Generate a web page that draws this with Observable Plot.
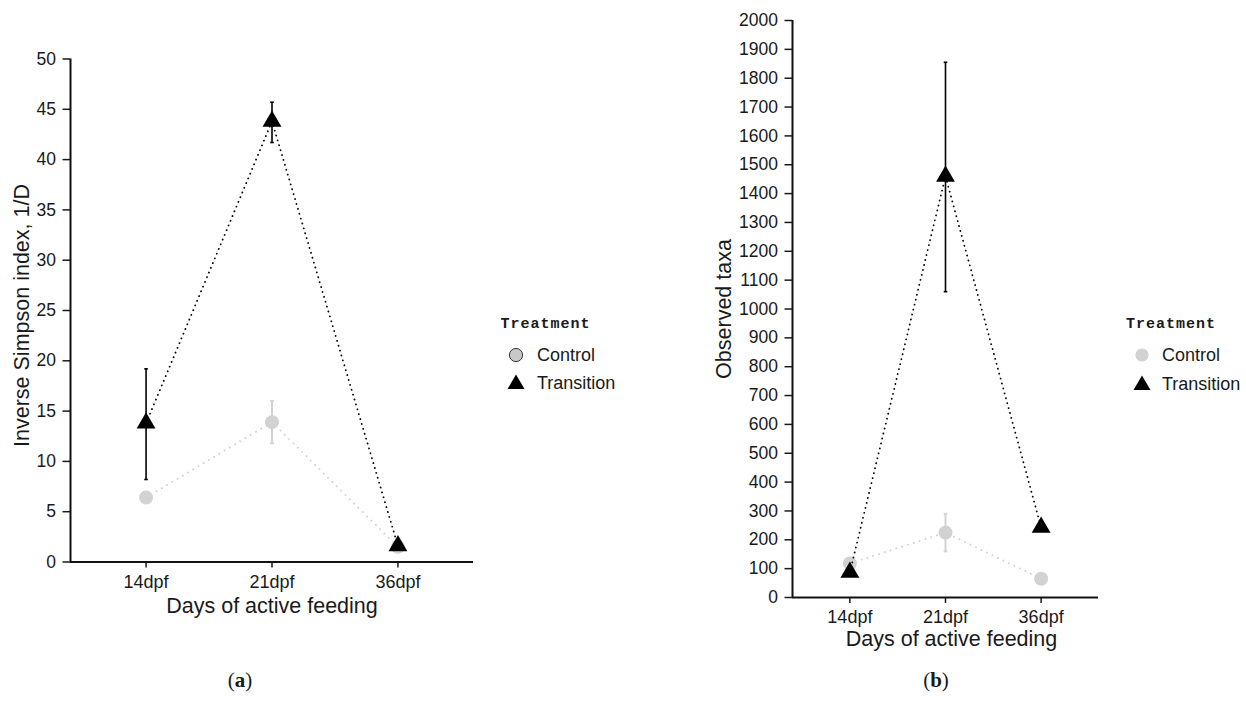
<!DOCTYPE html>
<html><head><meta charset="utf-8">
<script src="https://cdn.jsdelivr.net/npm/d3@7"></script>
<script src="https://cdn.jsdelivr.net/npm/@observablehq/plot@0.6"></script>
<style>
body{margin:0;background:#fff;}
#wrap{position:relative;width:1246px;height:708px;overflow:hidden;background:#fff;font-family:"Liberation Sans",Arial,sans-serif;color:#1a1a1a;}
.panel{position:absolute;top:0;}
.legtitle{position:absolute;font-family:"Liberation Mono","DejaVu Sans Mono",monospace;font-weight:bold;font-size:15px;letter-spacing:1px;line-height:1;}
.legitem{position:absolute;font-size:18px;line-height:1;display:flex;align-items:center;}
.caption{position:absolute;font-family:"Liberation Serif","DejaVu Serif",serif;font-size:21px;transform:translate(-50%,-50%);}
</style></head><body><div id="wrap"></div>
<script>
// ---- data ----
const days = ["14dpf", "21dpf", "36dpf"];
const dayIndex = [0, 1, 2];
const treatments = ["Control", "Transition"];

// (a) Inverse Simpson index
const simpsonControl   = [6.4, 13.9, 1.5];
const simpsonControlLo = [6.1, 11.8, 1.3];
const simpsonControlHi = [6.7, 16.0, 1.7];
const simpsonTrans     = [13.8, 43.8, 1.6];
const simpsonTransLo   = [8.2, 41.7, 1.4];
const simpsonTransHi   = [19.2, 45.7, 1.8];
const simpsonTicks = [0, 5, 10, 15, 20, 25, 30, 35, 40, 45, 50];

// (b) Observed taxa
const taxaControl   = [118, 225, 65];
const taxaControlLo = [108, 160, 58];
const taxaControlHi = [128, 290, 72];
const taxaTrans     = [87, 1460, 243];
const taxaTransLo   = [80, 1060, 235];
const taxaTransHi   = [94, 1855, 251];
const taxaTicks = [0, 100, 200, 300, 400, 500, 600, 700, 800, 900, 1000, 1100, 1200, 1300, 1400, 1500, 1600, 1700, 1800, 1900, 2000];

const GRAY = "#d2d2d2";
const BLACK = "#000";

const rows = (v, lo, hi) => dayIndex.map(i => ({i, v: v[i], lo: lo[i], hi: hi[i]}));
const capSymbol = {draw(ctx, size) { const r = Math.sqrt(size / Math.PI); ctx.moveTo(-r, 0); ctx.lineTo(r, 0); }};

function seriesMarks(data, color, symbol, r, dash, lineW, errW) {
  return [
    Plot.line(data, {x: "i", y: "v", stroke: color, strokeWidth: lineW, strokeDasharray: dash, strokeLinecap: "round"}),
    Plot.ruleX(data, {x: "i", y1: "lo", y2: "hi", stroke: color, strokeWidth: errW}),
    Plot.dot(data, {x: "i", y: "lo", symbol: capSymbol, r: 1.8, stroke: color, strokeWidth: errW, fill: "none"}),
    Plot.dot(data, {x: "i", y: "hi", symbol: capSymbol, r: 1.8, stroke: color, strokeWidth: errW, fill: "none"}),
    Plot.dot(data, {x: "i", y: "v", symbol, r, fill: color, stroke: "none"})
  ];
}

function panel(cfg) {
  return Plot.plot({
    width: cfg.width, height: cfg.height,
    marginLeft: cfg.ml, marginRight: cfg.mr, marginTop: cfg.mt, marginBottom: cfg.mb,
    style: {fontFamily: "Liberation Sans, Arial, sans-serif", color: "#1a1a1a", background: "transparent", overflow: "visible"},
    x: {domain: [-0.6, 2.6]},
    y: {domain: [0, cfg.ymax]},
    marks: [
      Plot.axisX({ticks: dayIndex, tickFormat: i => days[i], tickSize: 6, tickPadding: 7, fontSize: 18, strokeWidth: 1.5, label: null}),
      Plot.axisY({ticks: cfg.yticks, tickFormat: d => String(d), tickSize: 7.5, tickPadding: 7, fontSize: 17.5, strokeWidth: 1.5, label: null}),
      Plot.ruleY([0], {strokeWidth: 2, stroke: "#111"}),
      Plot.ruleX([-0.6], {strokeWidth: 2, stroke: "#111"}),
      ...seriesMarks(rows(cfg.c, cfg.cLo, cfg.cHi), GRAY, "circle", 7, "0.1,6", 1.9, 2),
      ...seriesMarks(rows(cfg.t, cfg.tLo, cfg.tHi), BLACK, "triangle", 7, "0.1,5", 1.8, 1.6),
      Plot.text([cfg.ylabel], {frameAnchor: "left", textAnchor: "middle", lineAnchor: "middle", dx: cfg.ylabDx, dy: cfg.ylabDy, rotate: -90, fontSize: 21.5, fill: "#1a1a1a"}),
      Plot.text(["Days of active feeding"], {frameAnchor: "bottom", textAnchor: "middle", lineAnchor: "middle", dx: cfg.xlabDx, dy: cfg.xlabDy, fontSize: 21.5, fill: "#1a1a1a"})
    ]
  });
}

const wrap = document.getElementById("wrap");

const pa = panel({width: 480, height: 640, ml: 70, mr: 7, mt: 58.5, mb: 78.5, ymax: 50, yticks: simpsonTicks,
  c: simpsonControl, cLo: simpsonControlLo, cHi: simpsonControlHi,
  t: simpsonTrans, tLo: simpsonTransLo, tHi: simpsonTransHi,
  ylabel: "Inverse Simpson index, 1/D", ylabDx: -48, ylabDy: 5, xlabDx: 0, xlabDy: 44});
pa.classList.add("panel"); pa.style.left = "0px";
wrap.appendChild(pa);

const pb = panel({width: 440, height: 660, ml: 112, mr: 22, mt: 20, mb: 63, ymax: 2000, yticks: taxaTicks,
  c: taxaControl, cLo: taxaControlLo, cHi: taxaControlHi,
  t: taxaTrans, tLo: taxaTransLo, tHi: taxaTransHi,
  ylabel: "Observed taxa", ylabDx: -68.5, ylabDy: 0, xlabDx: 6, xlabDy: 42});
pb.classList.add("panel"); pb.style.left = "680px";
wrap.appendChild(pb);

// ---- legends ----
function legend(x0, symX, txtX, yTitle, yC, yT, circleStroke) {
  const t = document.createElement("div");
  t.className = "legtitle"; t.textContent = "Treatment";
  t.style.left = x0 + "px"; t.style.top = (yTitle - 8) + "px";
  wrap.appendChild(t);
  const items = [
    {name: treatments[0], y: yC, svg: `<circle cx="10" cy="10" r="6.6" fill="${circleStroke ? '#c8c8c8' : GRAY}" ${circleStroke ? 'stroke="#333" stroke-width="1"' : ''}/>`},
    {name: treatments[1], y: yT, svg: `<path d="M10,1.5 L18.5,16 L1.5,16 Z" fill="#000"/>`}
  ];
  for (const it of items) {
    const s = document.createElement("div");
    s.style.position = "absolute"; s.style.left = (symX - 10) + "px"; s.style.top = (it.y - 10) + "px";
    s.innerHTML = `<svg width="20" height="20">${it.svg}</svg>`;
    wrap.appendChild(s);
    const d = document.createElement("div");
    d.className = "legitem"; d.textContent = it.name;
    d.style.left = txtX + "px"; d.style.top = (it.y - 9) + "px"; d.style.height = "18px";
    wrap.appendChild(d);
  }
}
legend(500.5, 516, 537, 325, 355, 383, true);
legend(1126, 1141.5, 1162, 325, 355, 384, false);

// ---- captions ----
for (const [lab, x] of [["a", 240], ["b", 936]]) {
  const c = document.createElement("div");
  c.className = "caption";
  c.innerHTML = `(<b>${lab}</b>)`;
  c.style.left = x + "px"; c.style.top = "680px";
  wrap.appendChild(c);
}
</script></body></html>
